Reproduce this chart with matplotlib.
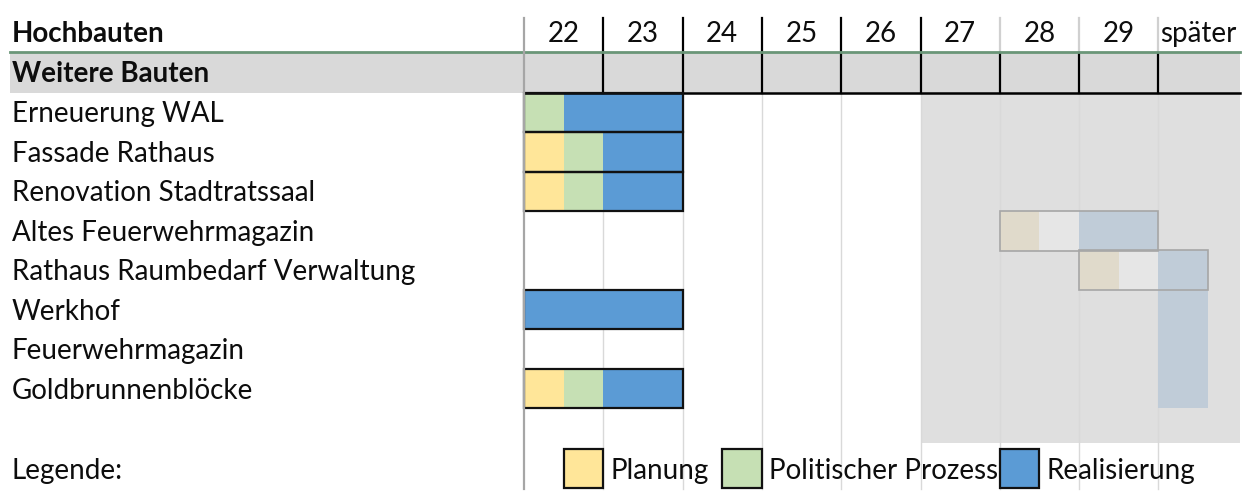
#!/usr/bin/env python3
import matplotlib

matplotlib.use("Agg")
import matplotlib.pyplot as plt

# --- data ---------------------------------------------------------------
years = ["22", "23", "24", "25", "26", "27", "28", "29", "später"]
first_year = 22

section = "Weitere Bauten"
projects = [
    "Erneuerung WAL",
    "Fassade Rathaus",
    "Renovation Stadtratssaal",
    "Altes Feuerwehrmagazin",
    "Rathaus Raumbedarf Verwaltung",
    "Werkhof",
    "Feuerwehrmagazin",
    "Goldbrunnenblöcke",
]

phases = ["Planung", "Politischer Prozess", "Realisierung"]

# one entry per coloured segment
task_project = [
    "Erneuerung WAL", "Erneuerung WAL",
    "Fassade Rathaus", "Fassade Rathaus", "Fassade Rathaus",
    "Renovation Stadtratssaal", "Renovation Stadtratssaal", "Renovation Stadtratssaal",
    "Altes Feuerwehrmagazin", "Altes Feuerwehrmagazin", "Altes Feuerwehrmagazin",
    "Rathaus Raumbedarf Verwaltung", "Rathaus Raumbedarf Verwaltung", "Rathaus Raumbedarf Verwaltung",
    "Werkhof", "Werkhof",
    "Feuerwehrmagazin",
    "Goldbrunnenblöcke", "Goldbrunnenblöcke", "Goldbrunnenblöcke", "Goldbrunnenblöcke",
]
task_phase = [
    "Politischer Prozess", "Realisierung",
    "Planung", "Politischer Prozess", "Realisierung",
    "Planung", "Politischer Prozess", "Realisierung",
    "Planung", "Politischer Prozess", "Realisierung",
    "Planung", "Politischer Prozess", "Realisierung",
    "Realisierung", "Realisierung",
    "Realisierung",
    "Planung", "Politischer Prozess", "Realisierung", "Realisierung",
]
task_start = [
    22.0, 22.5,
    22.0, 22.5, 23.0,
    22.0, 22.5, 23.0,
    28.0, 28.5, 29.0,
    29.0, 29.5, 30.0,
    22.0, 30.0,
    30.0,
    22.0, 22.5, 23.0, 30.0,
]
task_end = [
    22.5, 24.0,
    22.5, 23.0, 24.0,
    22.5, 23.0, 24.0,
    28.5, 29.0, 30.0,
    29.5, 30.0, 30.62,
    24.0, 30.62,
    30.62,
    22.5, 23.0, 24.0, 30.62,
]

# outlined bar groups
frame_project = [
    "Erneuerung WAL", "Fassade Rathaus", "Renovation Stadtratssaal",
    "Altes Feuerwehrmagazin", "Rathaus Raumbedarf Verwaltung",
    "Werkhof", "Goldbrunnenblöcke",
]
frame_start = [22.0, 22.0, 22.0, 28.0, 29.0, 22.0, 22.0]
frame_end = [24.0, 24.0, 24.0, 30.0, 30.62, 24.0, 24.0]

# years from here on are shown greyed out
shade_from = 27.0

# --- style --------------------------------------------------------------
COLORS = {"Planung": "#ffe699", "Politischer Prozess": "#c6e0b4", "Realisierung": "#5b9bd5"}
FADED = {"Planung": "#e0dacb", "Politischer Prozess": "#e6e6e6", "Realisierung": "#c0ccd8"}
FONT = "Lato"
FS = 20
TXT = "#0d0d0d"

W, H = 1246, 493
COL_PX = 79.3
ROW_PX = 39.5
X0_PX = 524
Y0_PX = 53

plt.rcParams["font.family"] = [FONT, "DejaVu Sans"]

fig = plt.figure(figsize=(W / 100, H / 100), dpi=100)
ax = fig.add_axes([0, 0, 1, 1])
ax.axis("off")

x_left = first_year - X0_PX / COL_PX
x_right = x_left + W / COL_PX
y_top = -Y0_PX / ROW_PX
y_bottom = y_top + H / ROW_PX
ax.set_xlim(x_left, x_right)
ax.set_ylim(y_bottom, y_top)

n_cols = len(years)
x_end = first_year + n_cols - 1 + 1.03
label_x = x_left + 12 / COL_PX
legend_row = len(projects) + 2
bottom = legend_row + 1.05
shade_bottom = legend_row - 0.13

# shaded future area
ax.barh((1 + shade_bottom) / 2, x_end - shade_from, left=shade_from,
        height=shade_bottom - 1, color="#dfdfdf", zorder=0)

# light column grid
for k in range(1, n_cols):
    ax.plot([first_year + k] * 2, [1, bottom], color="#d9d9d9", lw=1.0, zorder=0.5)

# header
ax.text(label_x, -0.47, "Hochbauten", fontsize=FS, fontweight="bold",
        va="center", ha="left", color=TXT)
for k, lab in enumerate(years):
    ax.text(first_year + k + 0.5, -0.47, lab, fontsize=FS, va="center", ha="center",
            color=TXT)
for k in range(1, n_cols):
    x = first_year + k
    col = "black" if x <= shade_from else "#d0d0d0"
    ax.plot([x, x], [-0.88, -0.05], color=col, lw=1.6, zorder=3)
ax.plot([label_x - 0.03, x_end], [-0.02, -0.02], color="#6a9678", lw=2.0, zorder=4)

# section row
ax.barh(0.5, x_end - label_x + 0.03, left=label_x - 0.03, height=1,
        color="#d9d9d9", zorder=1)
ax.text(label_x, 0.53, section, fontsize=FS, fontweight="bold", va="center",
        ha="left", color=TXT)
for k in range(1, n_cols):
    ax.plot([first_year + k] * 2, [0, 1], color="black", lw=1.6, zorder=3)
ax.plot([first_year, x_end], [1, 1], color="black", lw=1.8, zorder=3)

# project rows
row_of = {p: i + 1 for i, p in enumerate(projects)}
for p in projects:
    ax.text(label_x, row_of[p] + 0.55, p, fontsize=FS, va="center", ha="left",
            color=TXT)

for p, ph, s, e in zip(task_project, task_phase, task_start, task_end):
    faded = s >= shade_from
    ax.barh(row_of[p] + 0.5, e - s, left=s, height=1,
            color=(FADED if faded else COLORS)[ph], lw=0, zorder=2)

for p, s, e in zip(frame_project, frame_start, frame_end):
    faded = s >= shade_from
    ax.barh(row_of[p] + 0.5, e - s, left=s, height=1, fill=False,
            edgecolor="#a6a6a6" if faded else "#111111",
            lw=1.2 if faded else 1.6, zorder=3)

# left boundary of the time grid
ax.plot([first_year, first_year], [-0.88, bottom], color="#a6a6a6", lw=1.6, zorder=4)

# legend row
ax.text(label_x, legend_row + 0.57, "Legende:", fontsize=FS, va="center", ha="left",
        color=TXT)
legend_left = [22.5, 24.5, 28.0]
for ph, lx in zip(phases, legend_left):
    ax.barh(legend_row + 0.52, 0.5, left=lx, height=1, color=COLORS[ph],
            edgecolor="#111111", lw=1.6, zorder=3)
    ax.text(lx + 0.59, legend_row + 0.57, ph, fontsize=FS, va="center", ha="left",
            color=TXT, zorder=2)

fig.savefig("out.png", dpi=100)
